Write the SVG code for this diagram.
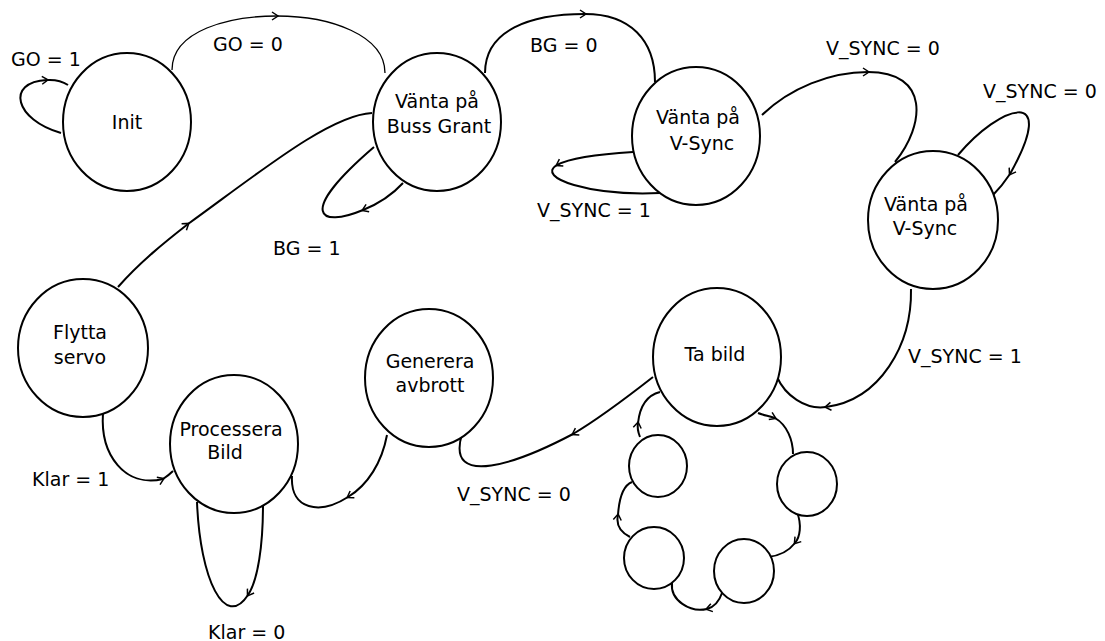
<svg xmlns="http://www.w3.org/2000/svg" width="1105" height="641" viewBox="0 0 1105 641">
<style>
  .node ellipse { fill: #ffffff; stroke: #000000; stroke-width: 2; }
  text { font-family: "DejaVu Sans", "Liberation Sans", sans-serif; font-size: 19px; fill: #000000; }
  .nt { text-anchor: middle; }
  .edge { fill: none; stroke: #000000; stroke-width: 2; marker-mid: url(#chev); }
  .thin { stroke-width: 1.3; }
</style>
<defs>
  <marker id="chev" viewBox="0 0 10 10" markerWidth="10" markerHeight="10" refX="6" refY="5" orient="auto" markerUnits="userSpaceOnUse">
    <path d="M1,1 L7,5 L1,9" fill="none" stroke="#000000" stroke-width="1.5"/>
  </marker>
</defs>
<rect width="1105" height="641" fill="#ffffff"/>
<g id="connectors">
  <path class="edge" d="M61,133 C15,120 5,82 47,80 C55,79.5 62,81 68,85"/>
  <path class="edge thin" d="M172,70 C172,30 230,16 277,16 C330,16 385,35 385,73"/>
  <path class="edge" d="M118,287 C140,262 165,242 188,224 C260,172 330,115 372,113"/>
  <path class="edge" d="M403,183 C392,195 378,204 363,210 C320,228 295,215 374,147"/>
  <path class="edge" d="M485,73 C485,30 530,14 585,14 C630,14 655,40 655,82"/>
  <path class="edge" d="M633,152 C600,154 570,158 557,165 C535,178 590,196 660,193"/>
  <path class="edge" d="M762,115 C790,88 830,72 868,72 C930,72 925,125 895,162"/>
  <path class="edge" d="M958,155 C1000,105 1060,85 1010,174 C1004,183 998,190 993,195"/>
  <path class="edge" d="M911,289 C912,345 880,400 826,407 C805,410 785,395 777,377"/>
  <path class="edge" d="M653,377 C630,395 600,418 573,434 C520,462 445,490 462,434"/>
  <path class="edge" d="M387,435 C382,462 368,485 348,497 C320,515 290,510 292,476"/>
  <path class="edge" d="M103,413 C100,455 125,488 163,479 C166,477 170,474 173,471"/>
  <path class="edge" d="M263,505 C263,545 258,580 248,595 C225,630 200,580 197,502"/>
  <path class="edge" d="M758,413 C763,415 769,416 775,418 C787,425 793,440 793,454"/>
  <path class="edge" d="M797,512 C802,525 800,537 795,543 C788,552 778,556 768,557"/>
  <path class="edge" d="M722,593 C719,602 714,607 707,609 C690,613 670,600 672,583"/>
  <path class="edge" d="M630,537 C620,532 616,524 618,515 C619,500 622,486 632,482"/>
  <path class="edge" d="M640,437 C638,432 637,428 638,423 C640,405 648,395 660,392"/>
</g>
<g id="labels">
  <text x="11" y="66">GO = 1</text>
  <text x="213" y="51">GO = 0</text>
  <text x="530" y="52">BG = 0</text>
  <text x="537" y="217">V_SYNC = 1</text>
  <text x="273" y="255">BG = 1</text>
  <text x="826" y="55">V_SYNC = 0</text>
  <text x="983" y="98">V_SYNC = 0</text>
  <text x="908" y="363">V_SYNC = 1</text>
  <text x="457" y="501">V_SYNC = 0</text>
  <text x="32" y="486">Klar = 1</text>
  <text x="208" y="639">Klar = 0</text>
</g>
<g id="init" class="node">
  <ellipse cx="127" cy="122" rx="64" ry="69"/>
  <text class="nt" x="127" y="129">Init</text>
</g>
<g id="vanta-buss-grant" class="node">
  <ellipse cx="437" cy="122" rx="64" ry="69"/>
  <text class="nt" x="437" y="108">Vänta på</text>
  <text class="nt" x="439" y="133">Buss Grant</text>
</g>
<g id="vanta-vsync-1" class="node">
  <ellipse cx="696" cy="136" rx="64" ry="69"/>
  <text class="nt" x="698" y="124">Vänta på</text>
  <text class="nt" x="702" y="150">V-Sync</text>
</g>
<g id="vanta-vsync-2" class="node">
  <ellipse cx="933" cy="220" rx="65" ry="69"/>
  <text class="nt" x="926" y="211">Vänta på</text>
  <text class="nt" x="925" y="235">V-Sync</text>
</g>
<g id="ta-bild" class="node">
  <ellipse cx="717" cy="357" rx="64" ry="69"/>
  <text class="nt" x="715" y="361">Ta bild</text>
</g>
<g id="generera-avbrott" class="node">
  <ellipse cx="429" cy="378" rx="64" ry="69"/>
  <text class="nt" x="430" y="368">Generera</text>
  <text class="nt" x="430" y="392">avbrott</text>
</g>
<g id="flytta-servo" class="node">
  <ellipse cx="83" cy="348" rx="65" ry="69"/>
  <text class="nt" x="80" y="339">Flytta</text>
  <text class="nt" x="80" y="364">servo</text>
</g>
<g id="processera-bild" class="node">
  <ellipse cx="234" cy="444" rx="64" ry="69"/>
  <text class="nt" x="231" y="436">Processera</text>
  <text class="nt" x="225" y="459">Bild</text>
</g>
<g id="sub-1" class="node"><ellipse cx="658" cy="466" rx="29" ry="31"/></g>
<g id="sub-2" class="node"><ellipse cx="807" cy="484" rx="30" ry="32"/></g>
<g id="sub-3" class="node"><ellipse cx="744" cy="571" rx="30" ry="32"/></g>
<g id="sub-4" class="node"><ellipse cx="654" cy="558" rx="30" ry="31"/></g>
</svg>
